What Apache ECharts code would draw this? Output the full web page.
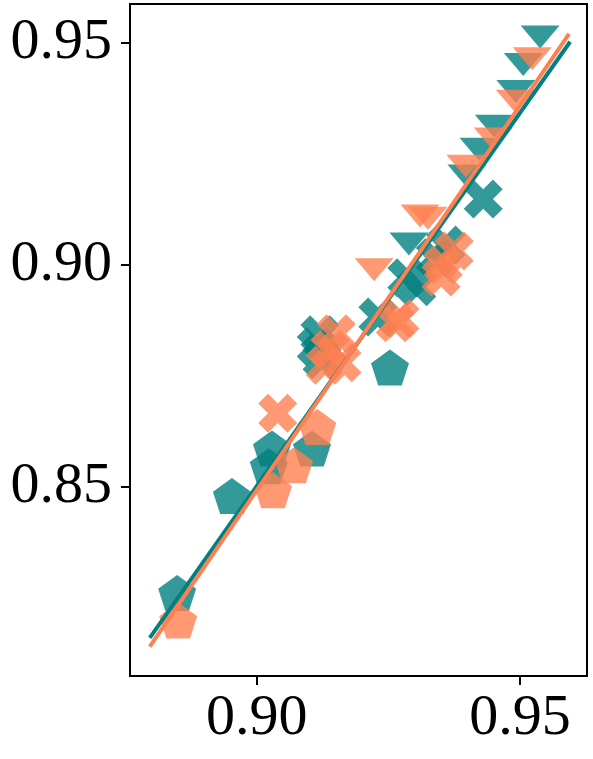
<!DOCTYPE html>
<html>
<head>
<meta charset="utf-8">
<script src="https://cdn.jsdelivr.net/npm/echarts@6/dist/echarts.min.js"></script>
<style>
  html, body { margin: 0; padding: 0; background: #fff; }
  #chart { width: 593px; height: 759px; }
</style>
</head>
<body>
<div id="chart"></div>
<script>
// teal group (x, y)
const tealPentagon = [
  [0.9253, 0.8769], [0.9029, 0.8587], [0.9105, 0.8587],
  [0.9023, 0.8547], [0.8953, 0.8480], [0.8849, 0.8262]
]
const tealCross = [
  [0.9430, 0.9148], [0.9359, 0.9045], [0.9339, 0.9016], [0.9285, 0.8971],
  [0.9304, 0.8951], [0.9230, 0.8883], [0.9120, 0.8843], [0.9113, 0.8816],
  [0.9124, 0.8787]
]
const tealTriangle = [
  [0.9538, 0.9513], [0.9506, 0.9451], [0.9492, 0.9390], [0.9451, 0.9312],
  [0.9422, 0.9260], [0.9399, 0.9200], [0.9289, 0.9047]
]
// coral group
const coralPentagon = [
  [0.9115, 0.8635], [0.9071, 0.8549], [0.9031, 0.8493], [0.8851, 0.8200]
]
const coralCross = [
  [0.9375, 0.9031], [0.9354, 0.9000], [0.9350, 0.8973], [0.9272, 0.8879],
  [0.9263, 0.8870], [0.9151, 0.8845], [0.9139, 0.8809], [0.9162, 0.8780],
  [0.9130, 0.8774], [0.9040, 0.8666]
]
const coralTriangle = [
  [0.9523, 0.9464], [0.9491, 0.9368], [0.9449, 0.9283], [0.9397, 0.9222],
  [0.9310, 0.9110], [0.9325, 0.9105], [0.9223, 0.8989]
]
// fitted lines (end points)
const tealFit = [[0.8797, 0.8161], [0.9595, 0.9502]]
const coralFit = [[0.8797, 0.8141], [0.9593, 0.9520]]

const xTicks = [0.90, 0.95]
const yTicks = [0.85, 0.90, 0.95]

const TEAL = '#008080'
const CORAL = '#FF7F50'

const PENTAGON = 'path://M0,-1L0.951,-0.309L0.588,0.809L-0.588,0.809L-0.951,-0.309Z'
const CROSS = 'path://M-1,-2L0,-1L1,-2L2,-1L1,0L2,1L1,2L0,1L-1,2L-2,1L-1,0L-2,-1Z'
const TRI_DOWN = 'path://M-1,-1L1,-1L0,1Z'

const scatter = (data, color, symbol, size, z) => ({
  type: 'scatter',
  data,
  symbol,
  symbolSize: size,
  itemStyle: { color, opacity: 0.8 },
  z
})

const fitLine = (data, color, z) => ({
  type: 'line',
  data,
  symbol: 'none',
  lineStyle: { color, width: 4 },
  z
})

const labelFont = {
  fontFamily: 'Liberation Serif',
  fontSize: 58,
  color: '#000'
}

const chart = echarts.init(document.getElementById('chart'))
chart.setOption({
  animation: false,
  grid: {
    left: 130,
    right: 6,
    top: 4,
    bottom: 83,
    show: true,
    borderColor: '#000',
    borderWidth: 2
  },
  xAxis: {
    type: 'value',
    min: 0.87595,
    max: 0.9627,
    splitLine: { show: false },
    axisLine: { show: true, lineStyle: { color: '#000', width: 2 } },
    axisTick: { show: true, length: 9, lineStyle: { width: 2, color: '#000' }, customValues: xTicks },
    axisLabel: { ...labelFont, margin: 14, customValues: xTicks, formatter: (v) => v.toFixed(2) }
  },
  yAxis: {
    type: 'value',
    min: 0.8075,
    max: 0.9587,
    splitLine: { show: false },
    axisLine: { show: true, lineStyle: { color: '#000', width: 2 } },
    axisTick: { show: true, length: 9, lineStyle: { width: 2, color: '#000' }, customValues: yTicks },
    axisLabel: { ...labelFont, margin: 18, customValues: yTicks, formatter: (v) => v.toFixed(2) }
  },
  series: [
    scatter(tealPentagon, TEAL, PENTAGON, [38, 36], 2),
    scatter(tealCross, TEAL, CROSS, [39, 39], 2),
    scatter(tealTriangle, TEAL, TRI_DOWN, [39, 23], 2),
    scatter(coralPentagon, CORAL, PENTAGON, [38, 36], 3),
    scatter(coralCross, CORAL, CROSS, [39, 39], 3),
    scatter(coralTriangle, CORAL, TRI_DOWN, [39, 23], 3),
    fitLine(tealFit, TEAL, 4),
    fitLine(coralFit, CORAL, 5)
  ]
})
</script>
</body>
</html>
